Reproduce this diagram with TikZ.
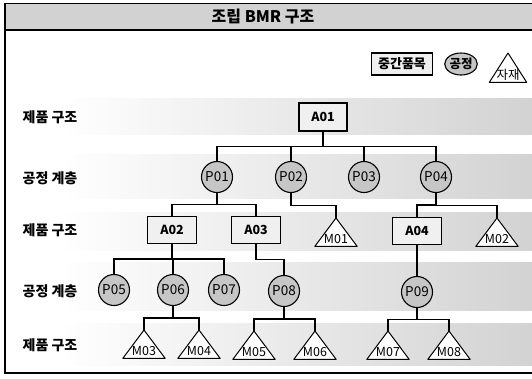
\documentclass[tikz,border=0pt]{standalone}
\usepackage{fontspec}
\setmainfont{Noto Sans CJK KR}
\usetikzlibrary{shapes.geometric,calc}
\pgfdeclarelayer{bands}
\pgfdeclarelayer{tris}
\pgfsetlayers{bands,tris,main}
\begin{document}
\begin{tikzpicture}[x=1pt,y=-1pt,
  conn/.style={line width=1.1pt},
  bus/.style={to path={|- ($(\tikztostart)!0.5!(\tikztotarget)$) -| (\tikztotarget)}},
  item/.style={draw, line width=1.1pt, fill=gray!12, minimum width=49pt, minimum height=27pt, inner sep=0pt, font=\fontsize{12.5}{12}\selectfont\bfseries},
  proc/.style={circle, draw, line width=1.1pt, fill=gray!45, minimum size=31pt, inner sep=0pt, font=\fontsize{13.5}{12}\selectfont},
  mlab/.style={anchor=base, yshift=2.5pt, inner sep=0pt, font=\fontsize{12.5}{12}\selectfont},
  mat/.style={rectangle, minimum width=42pt, minimum height=28pt, inner sep=0pt, anchor=north, label={[mlab]south:#1}},
  tri/.style={draw, line width=1pt, line join=round, fill=white},
  rowlab/.style={font=\fontsize{14}{16}\selectfont\bfseries},
  band/.style={left color=white, right color=gray!35}
]
\useasboundingbox (0,0) rectangle (532,378);
% bands
\begin{pgfonlayer}{bands}
\shade[band] (60,98) rectangle (532,134);
\shade[band] (60,154) rectangle (532,198);
\shade[band] (60,212) rectangle (532,250);
\shade[band] (60,262) rectangle (532,310);
\shade[band] (60,323) rectangle (532,365);
\end{pgfonlayer}
% title bar and frame
\fill[gray!35] (5,3) rectangle (532,30);
\draw[line width=0.8pt] (5,3) -- (532,3);
\draw[line width=1.6pt] (5,30) -- (532,30);
\draw[line width=1.3pt] (5,3) -- (5,373) -- (532,373);
\node[font=\fontsize{16}{18}\selectfont\bfseries] (title) at (263,17) {조립 BMR 구조};
% legend
\node[item, minimum width=61pt, minimum height=22pt, font=\fontsize{13}{12}\selectfont\bfseries] (lgA) at (402,64) {중간품목};
\node[ellipse, draw, line width=1.1pt, fill=gray!45, minimum width=32pt, minimum height=22pt, inner sep=0pt, font=\fontsize{12.5}{12}\selectfont\bfseries] (lgP) at (461,64) {공정};
\node[mat=자재, minimum width=37pt, minimum height=29pt] (lgM) at (508,53) {};
% row labels
\node[rowlab] (r1) at (50,117) {제품 구조};
\node[rowlab] (r2) at (50,178) {공정 계층};
\node[rowlab] (r3) at (50,230) {제품 구조};
\node[rowlab] (r4) at (50,291) {공정 계층};
\node[rowlab] (r5) at (50,345) {제품 구조};
% nodes
\node[item, minimum width=48pt, minimum height=28pt] (A01) at (323,117) {A01};
\node[proc] (P01) at (217,177) {P01};
\node[proc] (P02) at (291,177) {P02};
\node[proc] (P03) at (364,177) {P03};
\node[proc] (P04) at (436,177) {P04};
\node[item] (A02) at (172,230) {A02};
\node[item] (A03) at (256,230) {A03};
\node[mat=M01] (M01) at (336,218) {};
\node[item] (A04) at (417,231) {A04};
\node[mat=M02] (M02) at (497,218) {};
\node[proc] (P05) at (114,290) {P05};
\node[proc] (P06) at (173,290) {P06};
\node[proc] (P07) at (224,290) {P07};
\node[proc] (P08) at (284,291) {P08};
\node[proc] (P09) at (417,292) {P09};
\node[mat=M03] (M03) at (144,330) {};
\node[mat=M04] (M04) at (199,330) {};
\node[mat=M05] (M05) at (254,331) {};
\node[mat=M06] (M06) at (315,331) {};
\node[mat=M07] (M07) at (388,331) {};
\node[mat=M08] (M08) at (449,331) {};
% triangle outlines
\begin{pgfonlayer}{tris}
\foreach \m in {lgM,M01,M02,M03,M04,M05,M06,M07,M08}
  \draw[tri] (\m.north) -- (\m.south east) -- (\m.south west) -- cycle;
\end{pgfonlayer}
% connectors
\foreach \c in {P01,P02,P03,P04} \draw[conn] (A01.south) to[bus] (\c.north);
\draw[conn] (P01.south) to[bus] (A02.north);
\draw[conn] (P01.south) to[bus] (A03.north);
\draw[conn] (P02.south) to[bus] (M01.north);
\draw[conn] (P04.south) to[bus] (A04.north);
\draw[conn] (P04.south) to[bus] (M02.north);
\foreach \c in {P05,P06,P07} \draw[conn] (A02.south) to[bus] (\c.north);
\draw[conn] (A03.south) to[bus] (P08.north);
\draw[conn] (A04.south) to[bus] (P09.north);
\draw[conn] (P06.south) to[bus] (M03.north);
\draw[conn] (P06.south) to[bus] (M04.north);
\draw[conn] (P08.south) to[bus] (M05.north);
\draw[conn] (P08.south) to[bus] (M06.north);
\draw[conn] (P09.south) to[bus] (M07.north);
\draw[conn] (P09.south) to[bus] (M08.north);
\end{tikzpicture}
\end{document}
